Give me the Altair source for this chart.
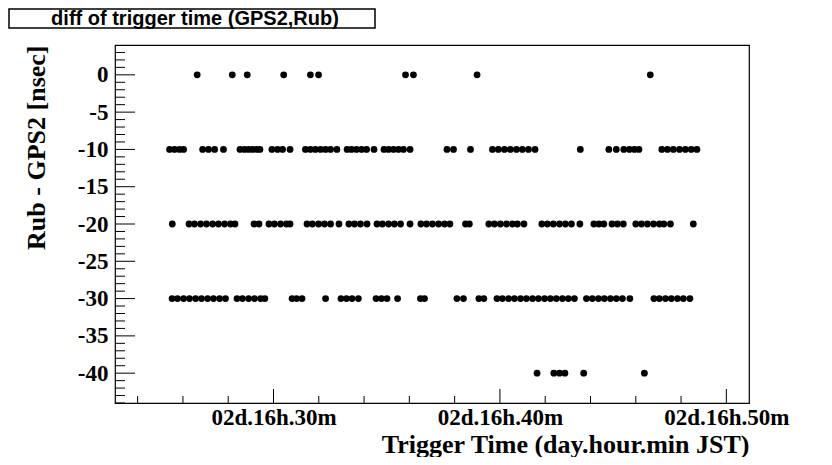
import altair as alt
import pandas as pd

# ---- data (minutes after 02d.16h) ----
t_0 = [26.63, 28.18, 28.84, 30.45, 31.63, 31.99, 35.83, 36.18, 38.99, 46.64]
t_m10 = [25.41, 25.63, 25.85, 26.03, 26.87, 27.13, 27.40, 27.79, 28.52, 28.72, 28.90, 29.07,
         29.25, 29.40, 29.93, 30.18, 30.40, 30.73, 31.41, 31.63, 31.85, 32.08, 32.30, 32.52,
         32.80, 33.25, 33.44, 33.66, 33.89, 34.11, 34.44, 34.88, 35.08, 35.30, 35.52, 35.74,
         36.03, 37.66, 37.95, 38.70, 39.67, 39.93, 40.20, 40.46, 40.73, 40.99, 41.26, 41.55,
         43.55, 44.81, 45.14, 45.47, 45.72, 45.94, 46.14, 47.15, 47.40, 47.66, 47.93, 48.19,
         48.45, 48.70]
t_m20 = [25.53, 26.27, 26.51, 26.78, 27.04, 27.31, 27.57, 27.84, 28.10, 28.30, 29.14, 29.36,
         29.80, 30.04, 30.31, 30.57, 30.73, 31.48, 31.72, 31.99, 32.25, 32.52, 32.89, 33.33,
         33.58, 33.84, 34.13, 34.57, 34.81, 35.08, 35.34, 35.61, 36.03, 36.51, 36.76, 37.02,
         37.29, 37.55, 37.79, 38.48, 38.65, 39.51, 39.76, 40.02, 40.29, 40.55, 40.77, 41.06,
         41.85, 42.10, 42.36, 42.63, 42.89, 43.16, 43.53, 44.15, 44.37, 44.59, 44.95, 45.19,
         45.45, 46.00, 46.25, 46.51, 46.78, 47.04, 47.24, 47.53, 48.54]
t_m30 = [25.52, 25.76, 26.03, 26.29, 26.56, 26.82, 27.09, 27.35, 27.62, 27.88, 28.39, 28.63,
         28.90, 29.16, 29.43, 29.62, 30.82, 31.02, 31.26, 32.30, 32.98, 33.22, 33.47, 33.75,
         34.53, 34.77, 35.01, 35.48, 36.49, 36.67, 38.10, 38.39, 39.07, 39.29, 39.87, 40.11,
         40.38, 40.64, 40.91, 41.17, 41.44, 41.70, 41.97, 42.23, 42.49, 42.76, 43.02, 43.29,
         43.82, 44.08, 44.35, 44.61, 44.88, 45.14, 45.41, 45.74, 46.80, 47.04, 47.31, 47.57,
         47.84, 48.10, 48.39]
t_m40 = [41.64, 42.38, 42.63, 42.87, 43.70, 46.38]

x_major = [30, 40, 50]
x_minor = [24, 26, 28, 32, 34, 36, 38, 42, 44, 46, 48]
y_major = [-40, -35, -30, -25, -20, -15, -10, -5, 0]
y_minor = [v for v in range(-44, 4) if v % 5 != 0]

title_text = "diff of trigger time (GPS2,Rub)"
x_title = "Trigger Time (day.hour.min JST)"
y_title = "Rub - GPS2 [nsec]"

rows = []
for val, ts in [(0, t_0), (-10, t_m10), (-20, t_m20), (-30, t_m30), (-40, t_m40)]:
    rows += [{"t": t, "d": val} for t in ts]
df = pd.DataFrame(rows)

W, H = 634, 358
xs = alt.Scale(domain=[23.0, 51.0], nice=False, zero=False)
ys = alt.Scale(domain=[-44, 4], nice=False, zero=False)

serif = "Liberation Serif"
x_axis = alt.Axis(values=x_major, labelExpr="'02d.16h.' + datum.value + 'm'",
                  ticks=False, tickSize=0, domain=False, grid=False,
                  labelFont=serif, labelFontWeight="bold", labelFontSize=23,
                  labelColor="black", labelPadding=3, labelFlush=False, labelOverlap=False,
                  title=x_title, titleFont=serif, titleFontWeight="bold", titleFontSize=26,
                  titleColor="black", titleAnchor="end", titleAlign="right",
                  titleX=W, titleY=49, titleBaseline="alphabetic")
y_axis = alt.Axis(values=y_major, labelExpr="'' + datum.value",
                  ticks=False, tickSize=0, domain=False, grid=False,
                  labelFont=serif, labelFontWeight="bold", labelFontSize=23,
                  labelColor="black", labelPadding=7, labelFlush=False, labelOverlap=False,
                  title=y_title, titleFont=serif, titleFontWeight="bold", titleFontSize=26,
                  titleColor="black", titleAngle=270, titleAlign="right",
                  titleX=-71, titleY=0, titleBaseline="alphabetic")

points = alt.Chart(df).mark_circle(size=46, color="black", opacity=1).encode(
    x=alt.X("t:Q", scale=xs, axis=x_axis),
    y=alt.Y("d:Q", scale=ys, axis=y_axis),
)

xmaj = alt.Chart(pd.DataFrame({"t": x_major})).mark_rule(color="black", strokeWidth=1).encode(
    x=alt.X("t:Q", scale=xs, axis=x_axis), y=alt.value(H), y2=alt.value(H - 14))
xmin = alt.Chart(pd.DataFrame({"t": x_minor})).mark_rule(color="black", strokeWidth=1).encode(
    x=alt.X("t:Q", scale=xs, axis=x_axis), y=alt.value(H), y2=alt.value(H - 7))
ymaj = alt.Chart(pd.DataFrame({"d": y_major})).mark_rule(color="black", strokeWidth=1).encode(
    y=alt.Y("d:Q", scale=ys, axis=y_axis), x=alt.value(0), x2=alt.value(20))
ymin = alt.Chart(pd.DataFrame({"d": y_minor})).mark_rule(color="black", strokeWidth=1).encode(
    y=alt.Y("d:Q", scale=ys, axis=y_axis), x=alt.value(0), x2=alt.value(10))

tdf = pd.DataFrame({"label": [title_text]})
box = alt.Chart(tdf).mark_rect(fill="white", stroke="black", strokeWidth=1.5).encode(
    x=alt.value(-106), x2=alt.value(260), y=alt.value(-36), y2=alt.value(-17))
btxt = alt.Chart(tdf).mark_text(font="Liberation Sans", fontWeight="bold", fontSize=20,
                                color="black", align="center", baseline="middle").encode(
    x=alt.value(80), y=alt.value(-26), text="label:N")

chart = alt.layer(ymin, ymaj, xmin, xmaj, points, box, btxt).properties(
    width=W, height=H, background="white",
    autosize=alt.AutoSizeParams(type="none"),
    padding={"left": 107, "top": 37, "right": 75, "bottom": 54},
).configure_view(stroke="black", strokeWidth=1.2)

chart.save("out.html", embed_options={"renderer": "svg", "actions": False})
